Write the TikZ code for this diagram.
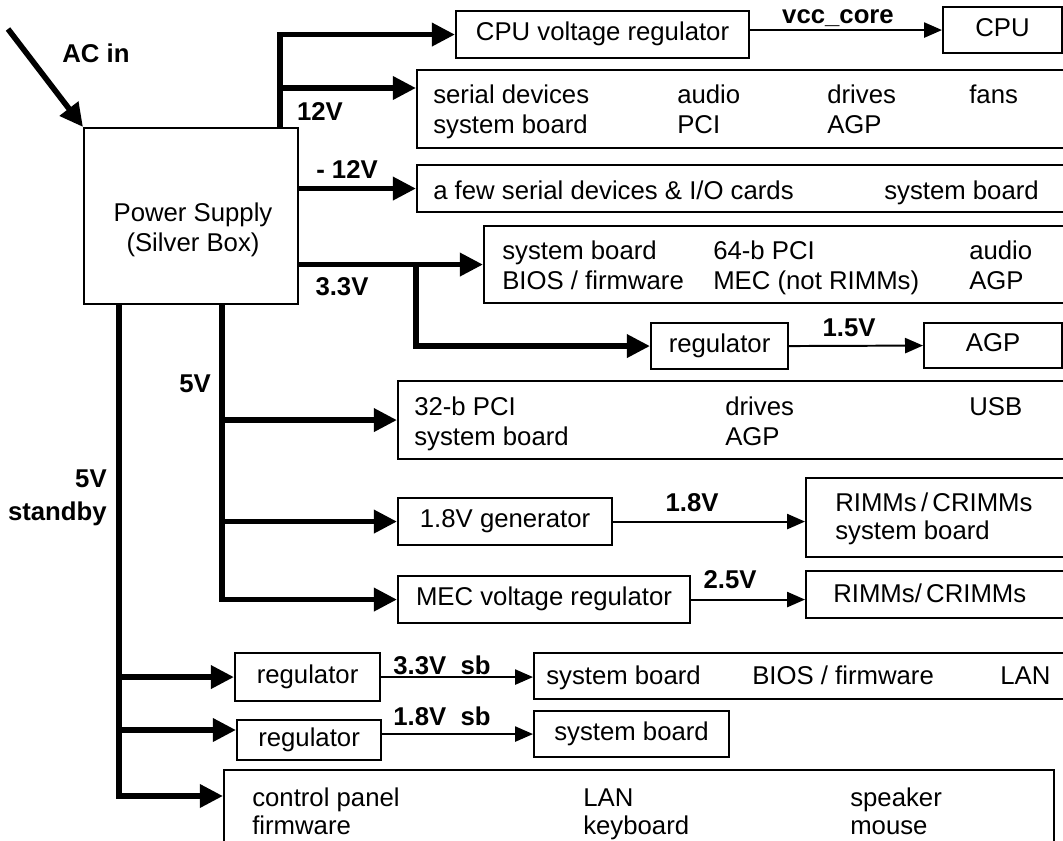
\documentclass[tikz,border=0pt]{standalone}
\usepackage{fontspec}
\setmainfont{Liberation Sans}
\usepackage{tikz}
\usetikzlibrary{arrows.meta}

\begin{document}
\begin{tikzpicture}[x=0.025cm, y=-0.025cm,
    font=\fontsize{18.3}{21.3}\selectfont,
    blk/.style 2 args={draw, line width=1.5pt, anchor=north west, inner sep=0pt,
        minimum width=#1*0.025cm, minimum height=#2*0.025cm,
        text height=13pt, text depth=4pt},
    item/.style={anchor=base west, inner sep=0pt},
    volt/.style={font=\fontsize{18.3}{21.3}\selectfont\bfseries, inner sep=0pt},
    bus/.style={line width=4pt, -{Triangle[length=0.58cm, width=0.56cm]}},
    wire/.style={line width=1.4pt, -{Triangle[length=0.45cm, width=0.38cm]}}]
    \useasboundingbox (0, 0) rectangle (1063, 840);

    % supply
    \node[blk={214}{176}] (psu) at (83, 127) {};
    \node[align=center] (psutxt) at (193, 230) {Power Supply\\(Silver Box)};
    \coordinate (ac) at (8, 29);
    \draw[bus] (ac) -- (psu.north west);
    \node[volt] (lac) at (96, 53) {AC in};

    % 12V
    \node[blk={293}{47}] (cpureg) at (455, 10) {CPU voltage regulator};
    \node[blk={119}{46}] (cpu) at (942, 6) {CPU};
    \node[blk={654}{78}] (box12) at (416, 69) {};
    \node[item] (t12a) at (433, 104) {serial devices};
    \node[item] (t12b) at (677, 104) {audio};
    \node[item] (t12c) at (827, 104) {drives};
    \node[item] (t12d) at (969, 104) {fans};
    \node[item] (t12e) at (433, 134) {system board};
    \node[item] (t12f) at (677, 134) {PCI};
    \node[item] (t12g) at (827, 134) {AGP};
    \coordinate (b12) at (280, 127);
    \coordinate (j12) at (280, 88);
    \draw[bus] (b12) |- (cpureg.west);
    \draw[bus] (j12) -- (j12 -| box12.west);
    \draw[wire] (cpureg.east |- cpu.west) -- (cpu.west);
    \node[volt] (l12) at (320, 112) {12V};
    \node[volt] (lvcc) at (838, 18) {vcc\_core};

    % -12V
    \node[blk={654}{47}] (boxm12) at (416, 164) {};
    \node[item] (tm12a) at (433, 199) {a few serial devices \& I/O cards};
    \node[item] (tm12b) at (884, 199) {system board};
    \draw[bus] (psu.east |- boxm12.west) -- (boxm12.west);
    \node[volt] (lm12) at (347, 170) {- 12V};

    % 3.3V
    \node[blk={587}{77}] (box33) at (483, 225) {};
    \node[item] (t33a) at (502, 259) {system board};
    \node[item] (t33b) at (713, 259) {64-b PCI};
    \node[item] (t33c) at (969, 259) {audio};
    \node[item] (t33d) at (502, 289) {BIOS / firmware};
    \node[item] (t33e) at (713, 289) {MEC (not RIMMs)};
    \node[item] (t33f) at (969, 289) {AGP};
    \node[blk={137}{46}] (reg15) at (650, 322) {regulator};
    \node[blk={138}{45}] (agp) at (923, 322) {AGP};
    \coordinate (j33) at (416, 263);
    \draw[bus] (psu.east |- box33.west) -- (box33.west);
    \draw[bus] (j33) |- (reg15.west);
    \draw[wire] (reg15.east) -- (agp.west);
    \node[volt] (l33) at (342, 287) {3.3V};
    \node[volt] (l15) at (849, 328) {1.5V};

    % 5V
    \node[blk={673}{78}] (box5) at (397, 380) {};
    \node[item] (t5a) at (414, 415) {32-b PCI};
    \node[item] (t5b) at (725, 415) {drives};
    \node[item] (t5c) at (969, 415) {USB};
    \node[item] (t5d) at (414, 445) {system board};
    \node[item] (t5e) at (725, 445) {AGP};
    \node[blk={214}{47}] (gen18) at (397, 497) {1.8V generator};
    \node[blk={265}{79}] (rimm1) at (805, 477) {};
    \node[item] (tr1a) at (835, 511) {RIMMs\,/\,CRIMMs};
    \node[item] (tr1b) at (835, 539) {system board};
    \node[blk={292}{47}] (mecreg) at (397, 575) {MEC voltage regulator};
    \node[blk={265}{47}] (rimm2) at (805, 570) {};
    \node[item] (tr2a) at (833, 602) {RIMMs/\,CRIMMs};
    \coordinate (b5) at (222, 303);
    \draw[bus] (b5) |- (mecreg.west);
    \draw[bus] (b5 |- box5.west) -- (box5.west);
    \draw[bus] (b5 |- gen18.west) -- (gen18.west);
    \draw[wire] (gen18.east) -- (gen18.east -| rimm1.west);
    \draw[wire] (mecreg.east) -- (mecreg.east -| rimm2.west);
    \node[volt] (l5) at (195, 384) {5V};
    \node[volt] (l18) at (692, 503) {1.8V};
    \node[volt] (l25) at (730, 580) {2.5V};

    % 5V standby
    \node[blk={145}{48}] (regsb1) at (234, 652) {regulator};
    \node[blk={537}{46}] (sysb1) at (533, 652) {};
    \node[item] (ts1a) at (546, 684) {system board};
    \node[item] (ts1b) at (752, 684) {BIOS / firmware};
    \node[item] (ts1c) at (1000, 684) {LAN};
    \node[blk={144}{40}] (regsb2) at (236, 719) {regulator};
    \node[blk={195}{46}] (sysb2) at (533, 710) {system board};
    \node[blk={830}{80}] (misc) at (223, 769) {};
    \node[item] (tma) at (252, 806) {control panel};
    \node[item] (tmb) at (583, 806) {LAN};
    \node[item] (tmc) at (850, 806) {speaker};
    \node[item] (tmd) at (252, 834) {firmware};
    \node[item] (tme) at (583, 834) {keyboard};
    \node[item] (tmf) at (850, 834) {mouse};
    \coordinate (bsb) at (119, 303);
    \coordinate (jsb2) at (119, 730);
    \coordinate (jsb3) at (119, 796);
    \draw[bus] (bsb) -- (jsb3) -- (jsb3 -| misc.west);
    \draw[bus] (bsb |- regsb1.west) -- (regsb1.west);
    \draw[bus] (jsb2) -- (jsb2 -| regsb2.west);
    \draw[wire] (regsb1.east) -- (regsb1.east -| sysb1.west);
    \draw[wire] (regsb2.east |- sysb2.west) -- (sysb2.west);
    \node[volt, align=right, anchor=east] (lsb) at (107, 498) {5V\\[2pt]standby};
    \node[volt] (l33sb) at (442, 665) {3.3V\ \ sb};
    \node[volt] (l18sb) at (442, 716) {1.8V\ \ sb};
\end{tikzpicture}
\end{document}
